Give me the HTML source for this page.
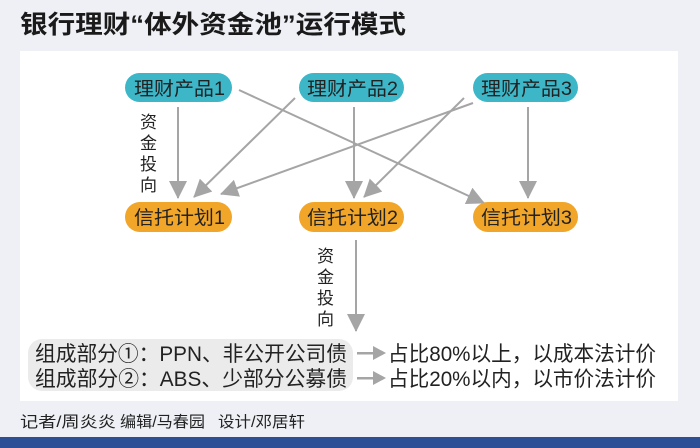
<!DOCTYPE html>
<html><head><meta charset="utf-8"><style>
html,body{margin:0;padding:0;background:#eef0f5;}
svg{display:block;}
text{font-family:"Liberation Sans","Noto Sans CJK SC",sans-serif;}
</style></head><body>
<svg width="700" height="448" viewBox="0 0 700 448" xmlns="http://www.w3.org/2000/svg">
<defs>
<marker id="ahb" markerWidth="18" markerHeight="18" refX="17" refY="9" orient="auto" markerUnits="userSpaceOnUse" viewBox="0 0 18 18">
<path d="M0,0 L18,9 L0,18 z" fill="#a5a5a5"/>
</marker>
</defs>
<rect width="700" height="448" fill="#eef0f5"/>
<text x="20" y="33" font-size="25" font-weight="bold" fill="#1a1a1a" textLength="386" lengthAdjust="spacingAndGlyphs">银行理财“体外资金池”运行模式</text>
<rect x="20" y="51" width="658" height="350" fill="#ffffff"/>

<g stroke="#a5a5a5" stroke-width="2" fill="none" marker-end="url(#ahb)">
<line x1="178" y1="107" x2="178" y2="198"/>
<line x1="239" y1="90" x2="484" y2="203"/>
<line x1="295" y1="98" x2="194" y2="197"/>
<line x1="354" y1="107" x2="354" y2="198"/>
<line x1="473" y1="103" x2="221" y2="194"/>
<line x1="464" y1="98" x2="364" y2="197"/>
<line x1="528" y1="107" x2="528" y2="198"/>
<line x1="356" y1="240" x2="356" y2="331"/>
</g>

<g>
<rect x="125" y="73" width="107" height="29" rx="14.5" fill="#3db6c8"/>
<rect x="299" y="73" width="105" height="29" rx="14.5" fill="#3db6c8"/>
<rect x="473" y="73" width="105" height="29" rx="14.5" fill="#3db6c8"/>
<rect x="125" y="202" width="107" height="30" rx="15" fill="#f1a529"/>
<rect x="299" y="202" width="105" height="30" rx="15" fill="#f1a529"/>
<rect x="473" y="202" width="105" height="30" rx="15" fill="#f1a529"/>
</g>
<g font-size="19" fill="#222">
<text x="134" y="95" textLength="91" lengthAdjust="spacingAndGlyphs">理财产品1</text>
<text x="307" y="95" textLength="91" lengthAdjust="spacingAndGlyphs">理财产品2</text>
<text x="481" y="95" textLength="91" lengthAdjust="spacingAndGlyphs">理财产品3</text>
<text x="134" y="224" textLength="91" lengthAdjust="spacingAndGlyphs">信托计划1</text>
<text x="307" y="224" textLength="91" lengthAdjust="spacingAndGlyphs">信托计划2</text>
<text x="481" y="224" textLength="91" lengthAdjust="spacingAndGlyphs">信托计划3</text>
</g>
<g font-size="17" fill="#222">
<text x="140" y="128">资</text><text x="140" y="149">金</text><text x="140" y="170">投</text><text x="140" y="191">向</text>
<text x="317" y="262">资</text><text x="317" y="283">金</text><text x="317" y="304">投</text><text x="317" y="325">向</text>
</g>

<rect x="28" y="339" width="325" height="52" rx="14" fill="#ebebeb"/>
<g font-size="21" fill="#222">
<text x="35" y="361" textLength="312" lengthAdjust="spacingAndGlyphs">组成部分①：PPN、非公开公司债</text>
<text x="35" y="386" textLength="312" lengthAdjust="spacingAndGlyphs">组成部分②：ABS、少部分公募债</text>
<text x="388" y="361" textLength="268" lengthAdjust="spacingAndGlyphs">占比80%以上，以成本法计价</text>
<text x="388" y="386" textLength="268" lengthAdjust="spacingAndGlyphs">占比20%以内，以市价法计价</text>
</g>
<g fill="#a5a5a5">
<rect x="357" y="352" width="17" height="2.5"/><path d="M373,346 L386,353 L373,360 z"/>
<rect x="357" y="377" width="17" height="2.5"/><path d="M373,371 L386,378 L373,385 z"/>
</g>

<g font-size="15.5" fill="#222">
<text x="20" y="427" textLength="96" lengthAdjust="spacingAndGlyphs">记者/周炎炎</text>
<text x="120" y="427" textLength="85" lengthAdjust="spacingAndGlyphs">编辑/马春园</text>
<text x="218" y="427" textLength="87" lengthAdjust="spacingAndGlyphs">设计/邓居轩</text>
</g>
<rect x="0" y="437" width="700" height="11" fill="#2c4f95"/>
</svg>
</body></html>
